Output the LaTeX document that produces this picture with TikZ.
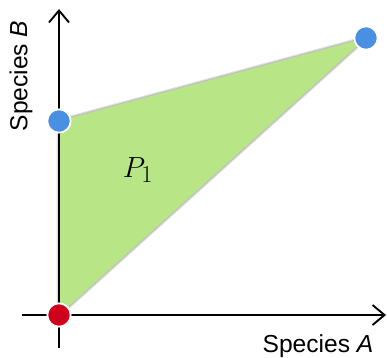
\documentclass[tikz,border=0pt]{standalone}
\usepackage{fontspec}
\setmainfont{Liberation Sans}
\usetikzlibrary{arrows.meta,positioning,shadows}
\definecolor{regionGreen}{RGB}{184,229,134}
\definecolor{pointBlue}{RGB}{74,144,226}
\definecolor{pointRed}{RGB}{208,2,27}

\begin{document}
\begin{tikzpicture}[
  x=0.03cm,y=-0.03cm,
  point/.style={
    circle,
    draw=white,
    line width=1.5pt,
    inner sep=0pt,
    minimum size=0.7cm
  },
  axis/.style={-{Straight Barb[length=3.6mm,width=6mm]},line width=1.6pt},
  axislabel/.style={font=\fontsize{21}{25}\selectfont},
  glow/.style={preaction={draw=black,opacity=0.12,line width=4pt,line join=round},
    preaction={draw=black,opacity=0.15,line width=2pt,line join=round}}
]
  \useasboundingbox (0,0) rectangle (387,357);

  % corners of the region
  \coordinate (origin) at (59,315);
  \coordinate (xstart) at (22,315);
  \coordinate (xend) at (386,315);
  \coordinate (ystart) at (59,348);
  \coordinate (yend) at (59,9);

  \node[point,fill=pointRed] (red) at (origin) {};
  \node[point,fill=pointBlue] (blueB) at (59,121) {};
  \node[point,fill=pointBlue] (blueAB) at (366,38) {};

  \fill[regionGreen,glow]
    (red.center) -- (blueB.center) -- (blueAB.center) -- cycle;
  \node[font=\fontsize{30}{34}\selectfont] (region) at (138,170) {$P_1$};

  \draw[axis] (xstart) -- (xend);
  \draw[axis] (ystart) -- (yend);

  % redraw the points above the axes
  \node[point,fill=pointRed] at (red) {};
  \node[point,fill=pointBlue] at (blueB) {};
  \node[point,fill=pointBlue] at (blueAB) {};

  \node[axislabel,anchor=base] (labelA) at (318,352) {Species \textit{A}};
  \node[axislabel,rotate=90] (labelB) at (21,76) {Species \textit{B}};
\end{tikzpicture}
\end{document}
